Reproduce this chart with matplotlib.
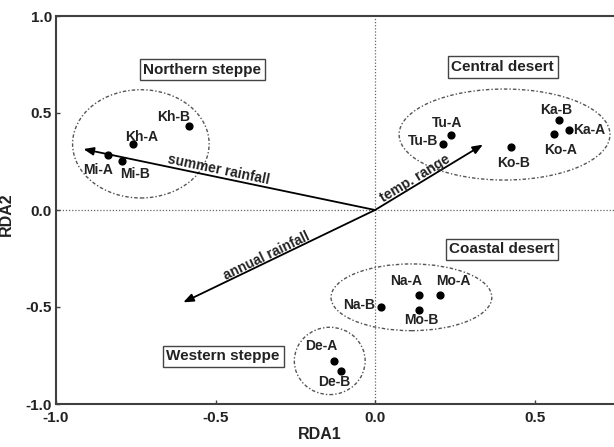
import numpy as np
import matplotlib
matplotlib.use("Agg")
import matplotlib.pyplot as plt
from matplotlib.patches import Ellipse

plt.rcParams["font.family"] = ["Liberation Sans", "DejaVu Sans"]
plt.rcParams["font.weight"] = "bold"

# site scores (RDA1, RDA2)
sites = ["Kh-B", "Kh-A", "Mi-A", "Mi-B",
         "Tu-A", "Tu-B", "Ko-B", "Ko-A", "Ka-B", "Ka-A",
         "Na-B", "Na-A", "Mo-A", "Mo-B", "De-A", "De-B"]
rda1 = [-0.583, -0.759, -0.838, -0.794,
        0.238, 0.214, 0.425, 0.561, 0.577, 0.607,
        0.018, 0.138, 0.204, 0.137, -0.128, -0.106]
rda2 = [0.435, 0.340, 0.285, 0.254,
        0.388, 0.338, 0.326, 0.392, 0.462, 0.411,
        -0.502, -0.440, -0.440, -0.514, -0.778, -0.828]

# environmental vectors
env_names = ["summer rainfall", "temp. range", "annual rainfall"]
env_x = [-0.914, 0.338, -0.601]
env_y = [0.314, 0.337, -0.476]

# region groups
regions = ["Northern steppe", "Central desert", "Coastal desert", "Western steppe"]
ell_cx = [-0.734, 0.406, 0.114, -0.142]
ell_cy = [0.341, 0.389, -0.450, -0.778]
ell_w = [0.428, 0.661, 0.504, 0.222]
ell_h = [0.558, 0.469, 0.344, 0.347]

# label placement (pixel offsets from point, alignment)
label_off = {
    "Kh-B": (-15, 9, "center"), "Kh-A": (9, 7, "center"),
    "Mi-A": (-10, -15, "center"), "Mi-B": (13, -13, "center"),
    "Tu-A": (-4, 12, "center"), "Tu-B": (-5, 3, "right"),
    "Ko-B": (3, -16, "center"), "Ko-A": (7, -16, "center"),
    "Ka-B": (-3, 10, "center"), "Ka-A": (4, 0, "left"),
    "Na-B": (-6, 2, "right"), "Na-A": (-13, 14, "center"),
    "Mo-A": (13, 14, "center"), "Mo-B": (3, -10, "center"),
    "De-A": (-13, 15, "center"), "De-B": (-7, -11, "center"),
}
region_pos = [(-0.541, 0.724), (0.400, 0.738), (0.398, -0.203), (-0.476, -0.755)]
env_label_pos = [(-0.491, 0.208), (0.125, 0.160), (-0.339, -0.236)]

fig = plt.figure(figsize=(6.14, 4.47), dpi=100)
ax = fig.add_axes([56 / 614, 43 / 447, 558 / 614, 388 / 447])
ax.set_xlim(-1.0, 0.749)
ax.set_ylim(-1.0, 1.0)

for s in ["left", "top", "bottom"]:
    ax.spines[s].set_color("#404040")
    ax.spines[s].set_linewidth(1.5)
ax.spines["right"].set_visible(False)

ax.axhline(0, color="#666666", lw=0.9, ls=(0, (1, 1.5)), zorder=1)
ax.axvline(0, color="#666666", lw=0.9, ls=(0, (1, 1.5)), zorder=1)

ax.set_xticks([-1.0, -0.5, 0.0, 0.5])
ax.set_yticks([-1.0, -0.5, 0.0, 0.5, 1.0])
ax.set_xticklabels(["-1.0", "-0.5", "0.0", "0.5"])
ax.set_yticklabels(["-1.0", "-0.5", "0.0", "0.5", "1.0"])
ax.tick_params(direction="in", length=3, width=1, colors="#404040",
               labelsize=11, labelcolor="#222222")
ax.tick_params(axis="x", pad=5)
ax.tick_params(axis="y", pad=3)
for lab in ax.get_xticklabels() + ax.get_yticklabels():
    lab.set_fontweight("bold")

ax.set_xlabel("RDA1", fontsize=11.5, fontweight="bold", color="#222222")
ax.set_ylabel("RDA2", fontsize=11.5, fontweight="bold", color="#222222")
ax.xaxis.set_label_coords(0.473, -0.058)
ax.yaxis.set_label_coords(-0.075, 0.49)

# ellipses
for cx, cy, w, h in zip(ell_cx, ell_cy, ell_w, ell_h):
    e = Ellipse((cx, cy), w, h, fill=False, ec="#555555", lw=1.0,
                ls=(0, (2.5, 1.5, 1, 1.5)), zorder=2)
    ax.add_patch(e)

# region boxes
for name, (x, y) in zip(regions, region_pos):
    ax.text(x, y, name, ha="center", va="center", fontsize=11, fontweight="bold",
            color="#222222",
            bbox=dict(boxstyle="square,pad=0.25", fc="white", ec="#444444", lw=1.0))

# points + labels
ax.scatter(rda1, rda2, s=24, color="black", zorder=4)
for name, x, y in zip(sites, rda1, rda2):
    dx, dy, ha = label_off[name]
    ax.annotate(name, (x, y), xytext=(dx * 0.72, dy * 0.72), textcoords="offset points",
                ha=ha, va="center", fontsize=10, fontweight="bold", color="#222222",
                zorder=5)

# environmental arrows
fig.canvas.draw()
for name, x, y, (lx, ly) in zip(env_names, env_x, env_y, env_label_pos):
    ax.annotate("", xy=(x, y), xytext=(0, 0),
                arrowprops=dict(arrowstyle="-|>,head_length=0.5,head_width=0.2",
                                color="black", lw=1.3,
                                mutation_scale=12, shrinkA=0, shrinkB=0), zorder=3)
    p0 = ax.transData.transform((0, 0))
    p1 = ax.transData.transform((x, y))
    ang = np.degrees(np.arctan2(p1[1] - p0[1], p1[0] - p0[0]))
    if ang > 90:
        ang -= 180
    elif ang < -90:
        ang += 180
    ax.text(lx, ly, name, rotation=ang, rotation_mode="anchor", ha="center", va="center",
            fontsize=10, fontweight="bold", color="#222222", zorder=5)

fig.savefig("out.png", dpi=100)
